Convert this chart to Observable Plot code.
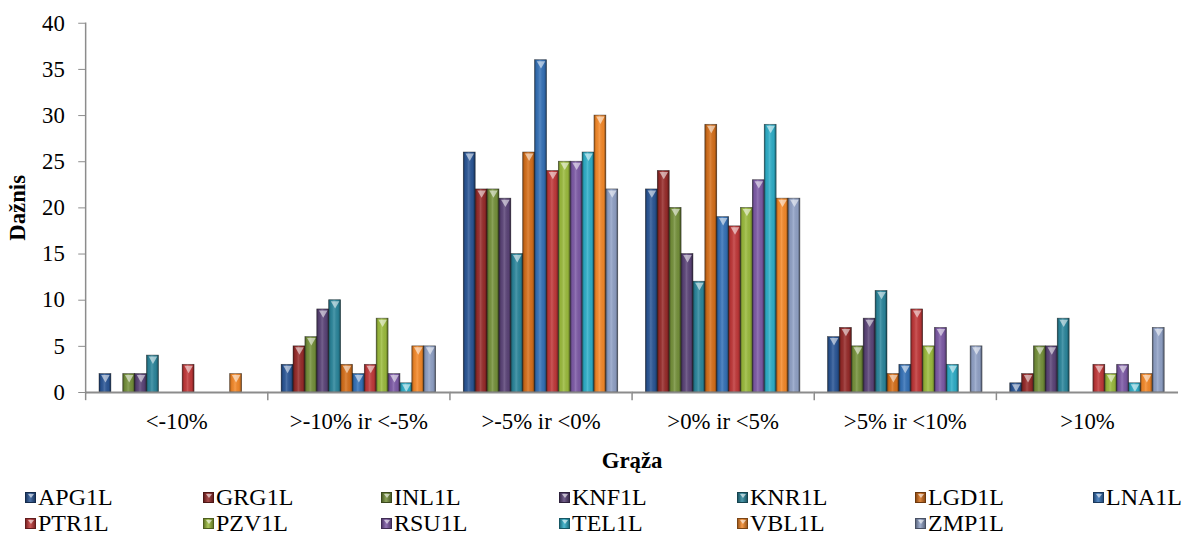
<!DOCTYPE html>
<html><head><meta charset="utf-8">
<script src="https://cdn.jsdelivr.net/npm/d3@7"></script>
<script src="https://cdn.jsdelivr.net/npm/@observablehq/plot@0.6"></script>
<style>
html,body{margin:0;padding:0;background:#fff;overflow:hidden;width:1183px;height:537px}
#chart{position:relative;width:1183px;height:537px;overflow:hidden;font-family:"Liberation Serif","Times New Roman",serif}
#chart svg{position:absolute;left:0;top:0}
.legend{position:absolute;left:25px;top:484px;display:grid;grid-template-columns:repeat(7,178px);row-gap:0px;font-size:24px;line-height:26px;color:#000}
.item{display:flex;align-items:center;white-space:nowrap}
.sw{width:11px;height:11px;margin-right:2px;position:relative;box-sizing:border-box;border:0.5px solid rgba(0,0,0,0.5)}
.sw::after{content:"";position:absolute;left:0;top:0;right:0;bottom:0;background:linear-gradient(90deg,rgba(0,0,0,0.35),rgba(255,255,255,0.15) 45%,rgba(0,0,0,0.35))}
.sw i{position:absolute;left:2px;top:1px;width:0;height:0;border-left:3px solid transparent;border-right:3px solid transparent;border-top:4px solid rgba(255,255,255,0.6);z-index:1}
</style></head>
<body><div id="chart"></div>
<script>
const categories = ["<-10%", ">-10% ir <-5%", ">-5% ir <0%", ">0% ir <5%", ">5% ir <10%", ">10%"];
const series = ["APG1L","GRG1L","INL1L","KNF1L","KNR1L","LGD1L","LNA1L","PTR1L","PZV1L","RSU1L","TEL1L","VBL1L","ZMP1L"];
const APG1L = [2, 3, 26, 22, 6, 1];
const GRG1L = [0, 5, 22, 24, 7, 2];
const INL1L = [2, 6, 22, 20, 5, 5];
const KNF1L = [2, 9, 21, 15, 8, 5];
const KNR1L = [4, 10, 15, 12, 11, 8];
const LGD1L = [0, 3, 26, 29, 2, 0];
const LNA1L = [0, 2, 36, 19, 3, 0];
const PTR1L = [3, 3, 24, 18, 9, 3];
const PZV1L = [0, 8, 25, 20, 5, 2];
const RSU1L = [0, 2, 25, 23, 7, 3];
const TEL1L = [0, 1, 26, 29, 3, 1];
const VBL1L = [2, 5, 30, 21, 0, 2];
const ZMP1L = [0, 5, 22, 21, 5, 7];
const yTicks = [0, 5, 10, 15, 20, 25, 30, 35, 40];
const colors = ["#2B5797","#982C2B","#76923C","#5C4579","#2C879D","#D8711C","#3673B9","#C2393A","#9CBC3E","#7E5BA7","#2FAFC9","#F68A2A","#92A3C8"];
const xTitle = "Grąža";
const yTitle = "Dažnis";

const valuesBySeries = {APG1L,GRG1L,INL1L,KNF1L,KNR1L,LGD1L,LNA1L,PTR1L,PZV1L,RSU1L,TEL1L,VBL1L,ZMP1L};
const data = [];
categories.forEach((c, i) => series.forEach(s => data.push({category: c, series: s, value: valuesBySeries[s][i]})));
const nonzero = data.filter(d => d.value > 0);

const W = 1195, H = 478, mT = 23, mB = 82;
const svg = Plot.plot({
  width: W, height: H,
  marginLeft: 85, marginRight: 4, marginTop: mT, marginBottom: mB,
  style: {fontFamily: '"Liberation Serif","Times New Roman",serif', fontSize: "23px", color: "#000", background: "transparent", overflow: "visible"},
  fx: {domain: categories, padding: 0},
  x: {domain: series, paddingInner: 0, paddingOuter: 0.6, axis: null},
  y: {domain: [0, 40]},
  color: {domain: series, range: colors},
  marks: [
    Plot.barY(nonzero, {fx: "category", x: "series", y: "value", fill: "series", stroke: "#1a1a1a", strokeOpacity: 0.6, strokeWidth: 0.7}),
    Plot.barY(nonzero, {fx: "category", x: "series", y: "value", fill: "url(#bevel)"}),
    Plot.dot(nonzero, {fx: "category", x: "series", y: "value", symbol: "triangle", r: 3.2, rotate: 180, dy: 3.5, fill: "white", fillOpacity: 0.55}),
    Plot.ruleY([0], {stroke: "#8c8c8c", strokeWidth: 2}),
    Plot.frame({anchor: "left", stroke: "#8c8c8c", strokeWidth: 1.5, insetTop: H - mT - mB, insetBottom: -7}),
    Plot.frame({anchor: "left", stroke: "#8c8c8c", strokeWidth: 1.5, facetAnchor: "left"}),
    Plot.axisY({ticks: yTicks, tickSize: 7, tickPadding: 14, stroke: "#8c8c8c", fill: "#000", label: yTitle, labelAnchor: "center", labelOffset: 78, labelArrow: false}),
    Plot.axisFx({anchor: "bottom", tickSize: 0, tickPadding: 21, fill: "#000", label: xTitle, labelAnchor: "center", labelOffset: 76, labelArrow: false})
  ]
});

// bevel gradient definition
const ns = "http://www.w3.org/2000/svg";
const defs = document.createElementNS(ns, "defs");
const grad = document.createElementNS(ns, "linearGradient");
grad.setAttribute("id", "bevel");
grad.setAttribute("x1", "0"); grad.setAttribute("x2", "1"); grad.setAttribute("y1", "0"); grad.setAttribute("y2", "0");
[[0, "#000", 0.4], [0.18, "#000", 0.05], [0.45, "#fff", 0.15], [0.8, "#000", 0.05], [1, "#000", 0.45]].forEach(([o, c, a]) => {
  const st = document.createElementNS(ns, "stop");
  st.setAttribute("offset", o); st.setAttribute("stop-color", c); st.setAttribute("stop-opacity", a);
  grad.appendChild(st);
});
defs.appendChild(grad);
svg.insertBefore(defs, svg.firstChild);

svg.querySelectorAll('[aria-label="y-axis label"] text, [aria-label="fx-axis label"] text, [aria-label="y-axis label"], [aria-label="fx-axis label"]').forEach(el => {
  el.setAttribute("font-weight", "bold");
  el.setAttribute("font-size", "23");
});

const chart = document.getElementById("chart");
chart.appendChild(svg);

const legend = document.createElement("div");
legend.className = "legend";
series.forEach((s, i) => {
  const item = document.createElement("div");
  item.className = "item";
  const sw = document.createElement("span");
  sw.className = "sw";
  sw.style.background = colors[i];
  sw.appendChild(document.createElement("i"));
  item.appendChild(sw);
  item.appendChild(document.createTextNode(s));
  legend.appendChild(item);
});
chart.appendChild(legend);
</script>
</body></html>
